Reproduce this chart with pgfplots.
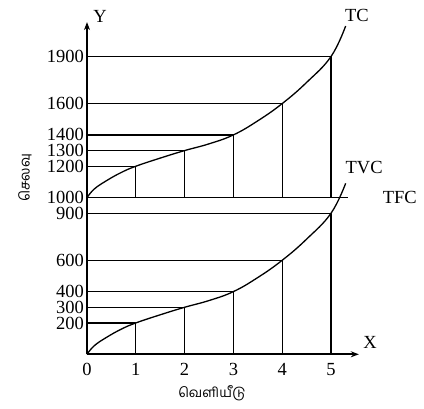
\documentclass[border=0pt]{standalone}
\usepackage{pgfplots}
\pgfplotsset{compat=1.18}
\usepackage{fontspec}
\setmainfont{Liberation Serif}
\newfontfamily\tamilfont[Script=Tamil]{Hind Madurai}
\usetikzlibrary{arrows.meta}
\pgfplotsset{gl/.style={black, line width=1.3pt, no markers, line join=round}}
\begin{document}
\begin{tikzpicture}
\useasboundingbox (-87pt,-54.7pt) rectangle (337pt,354.3pt);
\begin{axis}[
  at={(0pt,0pt)}, anchor=south west,
  x=48.8pt, y=0.1567pt,
  xmin=0, xmax=5.57, ymin=0, ymax=2120,
  enlargelimits=false,
  axis lines=left,
  axis line style={line width=1.9pt, -{Stealth[length=8pt,width=6pt]}},
  clip=false,
  major tick length=0pt,
  xtick={0,1,2,3,4,5},
  ytick={200,300,400,600,900,1000,1200,1300,1400,1600,1900},
  yticklabels={200,300,400,600,900,1000,1200,1300,1400,1600,1900},
  xticklabels={0,1,2,3,4,5},
  tick label style={font=\fontsize{18.5}{20}\selectfont, inner sep=0pt},
  yticklabel style={anchor=east, xshift=-3pt},
  xticklabel style={anchor=north, yshift=-8.5pt},
  /pgf/number format/assume math mode=true,
]
% TFC line
\addplot[gl] coordinates {(0,1000)(5.35,1000)};
% TC level guides
\addplot[gl] coordinates {(0,1200)(1,1200)(1,1000)};
\addplot[gl] coordinates {(0,1300)(2,1300)(2,1000)};
\addplot[gl] coordinates {(0,1400)(3,1400)(3,1000)};
\addplot[gl] coordinates {(0,1600)(4,1600)(4,1000)};
\addplot[gl] coordinates {(0,1900)(5,1900)(5,1000)};
% TVC level guides
\addplot[gl] coordinates {(0,200)(1,200)(1,0)};
\addplot[gl] coordinates {(0,300)(2,300)(2,0)};
\addplot[gl] coordinates {(0,400)(3,400)(3,0)};
\addplot[gl] coordinates {(0,600)(4,600)(4,0)};
\addplot[gl] coordinates {(0,900)(5,900)(5,0)};
% TVC curve
\addplot[gl, smooth, tension=0.7] coordinates {
 (0,0)(0.15,55)(0.4,108)(0.7,160)(1,200)(1.5,252)(2,300)(2.5,343)(3,400)(3.5,490)(4,600)(4.5,735)(5,900)(5.3,1091)};
% TC curve
\addplot[gl, smooth, tension=0.7] coordinates {
 (0,1000)(0.15,1055)(0.4,1108)(0.7,1160)(1,1200)(1.5,1252)(2,1300)(2.5,1343)(3,1400)(3.5,1490)(4,1600)(4.5,1735)(5,1900)(5.3,2095)};
% labels
\node[font=\fontsize{18.5}{20}\selectfont] at (axis cs:5.53,2165) {TC};
\node[font=\fontsize{18.5}{20}\selectfont] at (axis cs:5.68,1189) {TVC};
\node[font=\fontsize{18.5}{20}\selectfont] at (axis cs:6.41,1004) {TFC};
\node[font=\fontsize{18.5}{20}\selectfont] at (axis cs:5.80,78) {X};
\node[font=\fontsize{18.5}{20}\selectfont] at (axis cs:0.27,2158) {Y};
\node[font=\tamilfont\fontsize{14}{16}\selectfont, rotate=90] at (axis cs:-1.27,1125) {செலவு};
\node[font=\tamilfont\fontsize{13.5}{15}\selectfont] at (axis cs:2.56,-246) {வெளியீடு};
\end{axis}
\end{tikzpicture}
\end{document}
